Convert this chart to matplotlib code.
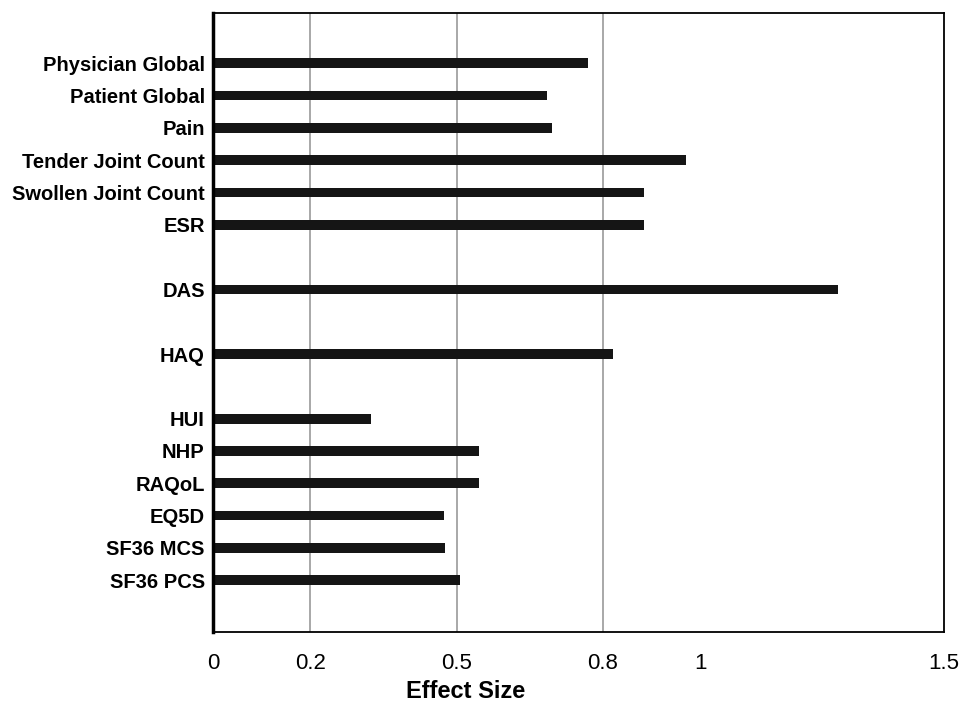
import matplotlib
matplotlib.use("Agg")
import matplotlib.pyplot as plt
from matplotlib import font_manager

categories = ["Physician Global", "Patient Global", "Pain", "Tender Joint Count",
              "Swollen Joint Count", "ESR", "DAS", "HAQ", "HUI", "NHP", "RAQoL",
              "EQ5D", "SF36 MCS", "SF36 PCS"]
effect_size = [0.77, 0.685, 0.695, 0.97, 0.885, 0.885, 1.283, 0.82, 0.325,
               0.545, 0.545, 0.475, 0.476, 0.507]
tick_values = [0, 0.2, 0.5, 0.8, 1, 1.5]
tick_labels = ["0", "0.2", "0.5", "0.8", "1", "1.5"]
grid_values = [0.2, 0.5, 0.8]

names = {f.name for f in font_manager.fontManager.ttflist}
fam = ["Liberation Sans Narrow"] if "Liberation Sans Narrow" in names else ["Liberation Sans"]
fam = fam + ["DejaVu Sans"]

# layout: gaps between groups of rows
slots = [0, 1, 2, 3, 4, 5, 7, 9, 11, 12, 13, 14, 15, 16]

fig = plt.figure(figsize=(9.63, 7.06), dpi=100)
ax = fig.add_axes([213/963, 1-632/706, (944-213)/963, (632-13)/706])

for g in grid_values:
    ax.axvline(g, color="#9a9a9a", lw=1.2, zorder=1)

ax.barh(slots, effect_size, height=0.3, color="#151515", zorder=2)

ax.set_xlim(0, 1.5)
ax.set_ylim(17.6, -1.55)
ax.set_yticks(slots)
ax.set_yticklabels(categories, fontfamily=fam, fontweight="bold", fontsize=14.5)
ax.set_xticks(tick_values)
ax.set_xticklabels(tick_labels, fontfamily=fam, fontsize=16)
ax.tick_params(axis="both", length=0)
ax.tick_params(axis="x", pad=15)
ax.tick_params(axis="y", pad=6)

for s in ["top", "right", "bottom"]:
    ax.spines[s].set_linewidth(1.3)
ax.spines["left"].set_linewidth(2.5)

ax.set_xlabel("Effect Size", fontfamily=fam, fontweight="bold", fontsize=17)
ax.xaxis.set_label_coords((466-213)/731, -0.077)

fig.savefig("out.png", dpi=100, facecolor="white")
